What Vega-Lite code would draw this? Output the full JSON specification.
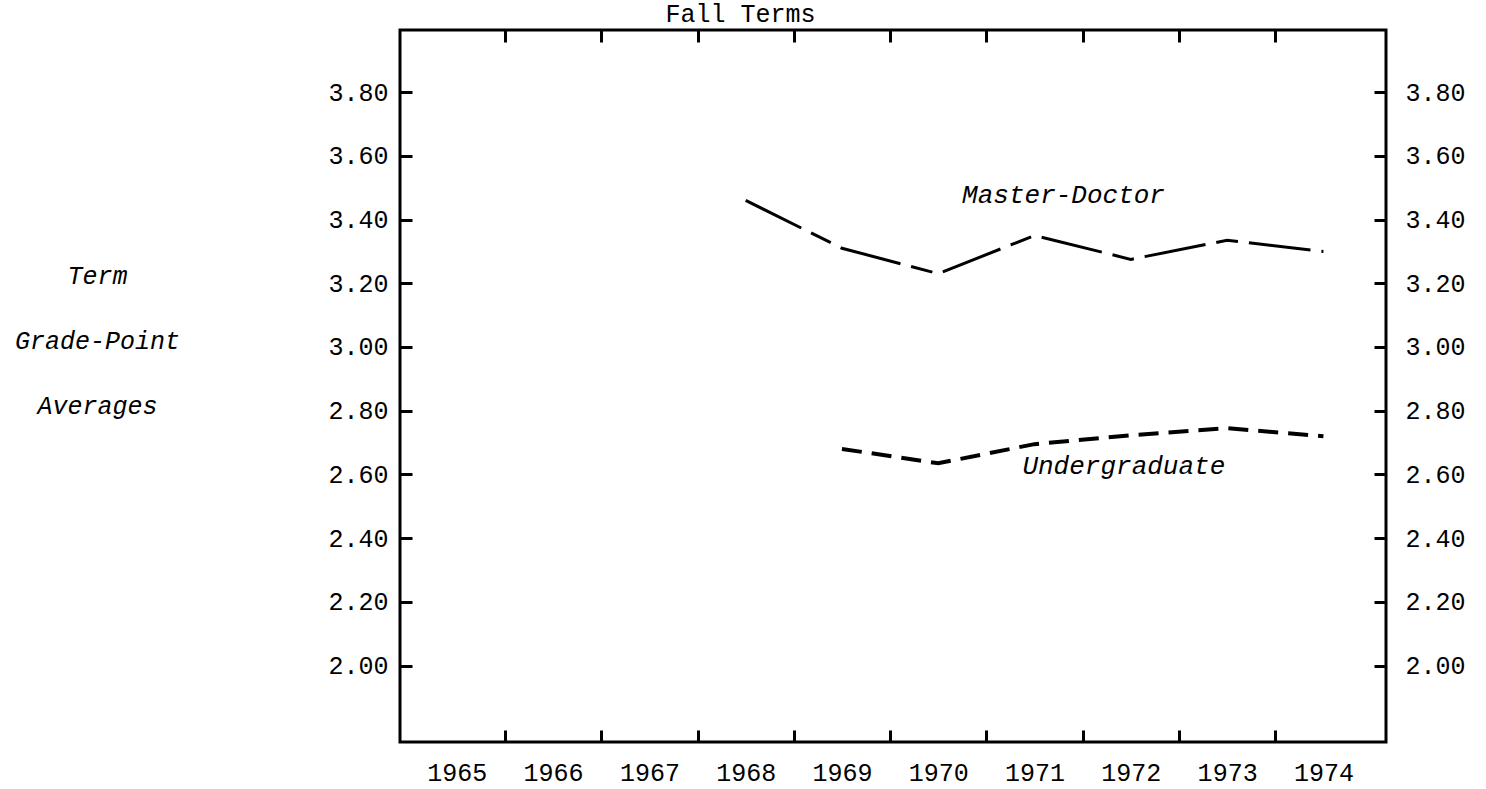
{
  "$schema": "https://vega.github.io/schema/vega-lite/v6.json",
  "autosize": "none",
  "width": 986,
  "height": 712,
  "padding": {"left": 400, "top": 30, "right": 100, "bottom": 47},
  "background": "white",
  "config": {
    "view": {"stroke": "black", "strokeWidth": 3},
    "font": "Liberation Mono",
    "axis": {
      "domain": false,
      "grid": false,
      "tickColor": "black",
      "tickWidth": 3,
      "labelColor": "black",
      "labelFont": "Liberation Mono",
      "labelFontSize": 25,
      "titleFont": "Liberation Mono",
      "titleColor": "black",
      "titleFontWeight": "normal",
      "titleFontSize": 25,
      "labelOverlap": false,
      "labelFlush": false,
      "labelBound": false
    }
  },
  "data": {
    "values": [
      {"series": "Master-Doctor", "year": 1968, "gpa": 3.46},
      {"series": "Master-Doctor", "year": 1969, "gpa": 3.31},
      {"series": "Master-Doctor", "year": 1970, "gpa": 3.23},
      {"series": "Master-Doctor", "year": 1971, "gpa": 3.35},
      {"series": "Master-Doctor", "year": 1972, "gpa": 3.275},
      {"series": "Master-Doctor", "year": 1973, "gpa": 3.335},
      {"series": "Master-Doctor", "year": 1974, "gpa": 3.30},
      {"series": "Undergraduate", "year": 1969, "gpa": 2.68},
      {"series": "Undergraduate", "year": 1970, "gpa": 2.635},
      {"series": "Undergraduate", "year": 1971, "gpa": 2.695},
      {"series": "Undergraduate", "year": 1972, "gpa": 2.723},
      {"series": "Undergraduate", "year": 1973, "gpa": 2.745},
      {"series": "Undergraduate", "year": 1974, "gpa": 2.72}
    ]
  },
  "resolve": {"axis": {"x": "independent", "y": "independent"}},
  "layer": [
    {
      "transform": [{"filter": "datum.series == 'Master-Doctor'"}],
      "mark": {"type": "line", "stroke": "black", "strokeWidth": 3, "strokeDash": [62, 11, 22, 11]},
      "encoding": {
        "x": {
          "field": "year", "type": "quantitative",
          "scale": {"domain": [1964.41, 1974.65], "nice": false, "zero": false},
          "axis": {
            "orient": "bottom",
            "values": [1965, 1965.5, 1966, 1966.5, 1967, 1967.5, 1968, 1968.5, 1969, 1969.5, 1970, 1970.5, 1971, 1971.5, 1972, 1972.5, 1973, 1973.5, 1974],
            "labelExpr": "datum.value % 1 == 0 ? format(datum.value, 'd') : ''",
            "tickSize": -12,
            "tickOpacity": {"condition": {"test": "datum.value % 1 != 0", "value": 1}, "value": 0},
            "labelPadding": 30,
            "title": null
          }
        },
        "y": {
          "field": "gpa", "type": "quantitative",
          "scale": {"domain": [1.76, 3.995], "nice": false, "zero": false},
          "axis": {
            "orient": "left",
            "values": [2.0, 2.2, 2.4, 2.6, 2.8, 3.0, 3.2, 3.4, 3.6, 3.8],
            "format": ".2f",
            "tickSize": -12,
            "labelPadding": 24,
            "title": ["Term", "Grade-Point", "Averages"],
            "titleAngle": 0,
            "titleX": -303,
            "titleY": 253,
            "titleAlign": "center",
            "titleBaseline": "alphabetic",
            "titleLineHeight": 65,
            "titleFontStyle": "italic"
          }
        }
      }
    },
    {
      "transform": [{"filter": "datum.series == 'Undergraduate'"}],
      "mark": {"type": "line", "stroke": "black", "strokeWidth": 4, "strokeDash": [20, 10]},
      "encoding": {
        "x": {
          "field": "year", "type": "quantitative",
          "axis": {
            "orient": "top",
            "values": [1965.5, 1966.5, 1967.5, 1968.5, 1969.5, 1970.5, 1971.5, 1972.5, 1973.5],
            "labels": false,
            "tickSize": -12,
            "title": "Fall Terms",
            "titleX": 340,
            "titleY": -9,
            "titleAlign": "center",
            "titleBaseline": "alphabetic",
            "titleAngle": 0
          }
        },
        "y": {
          "field": "gpa", "type": "quantitative",
          "axis": {
            "orient": "right",
            "values": [2.0, 2.2, 2.4, 2.6, 2.8, 3.0, 3.2, 3.4, 3.6, 3.8],
            "format": ".2f",
            "tickSize": -12,
            "labelPadding": 31,
            "title": null
          }
        }
      }
    },
    {
      "transform": [{"filter": "datum.series == 'Master-Doctor' && datum.year == 1971"}],
      "mark": {"type": "text", "font": "Liberation Mono", "fontStyle": "italic", "fontSize": 26, "color": "black", "align": "center", "baseline": "middle", "dx": 29, "dy": -40},
      "encoding": {
        "x": {"field": "year", "type": "quantitative", "axis": null},
        "y": {"field": "gpa", "type": "quantitative", "axis": null},
        "text": {"field": "series"}
      }
    },
    {
      "transform": [{"filter": "datum.series == 'Undergraduate' && datum.year == 1972"}],
      "mark": {"type": "text", "font": "Liberation Mono", "fontStyle": "italic", "fontSize": 26, "color": "black", "align": "center", "baseline": "middle", "dx": -7, "dy": 31},
      "encoding": {
        "x": {"field": "year", "type": "quantitative", "axis": null},
        "y": {"field": "gpa", "type": "quantitative", "axis": null},
        "text": {"field": "series"}
      }
    }
  ]
}
